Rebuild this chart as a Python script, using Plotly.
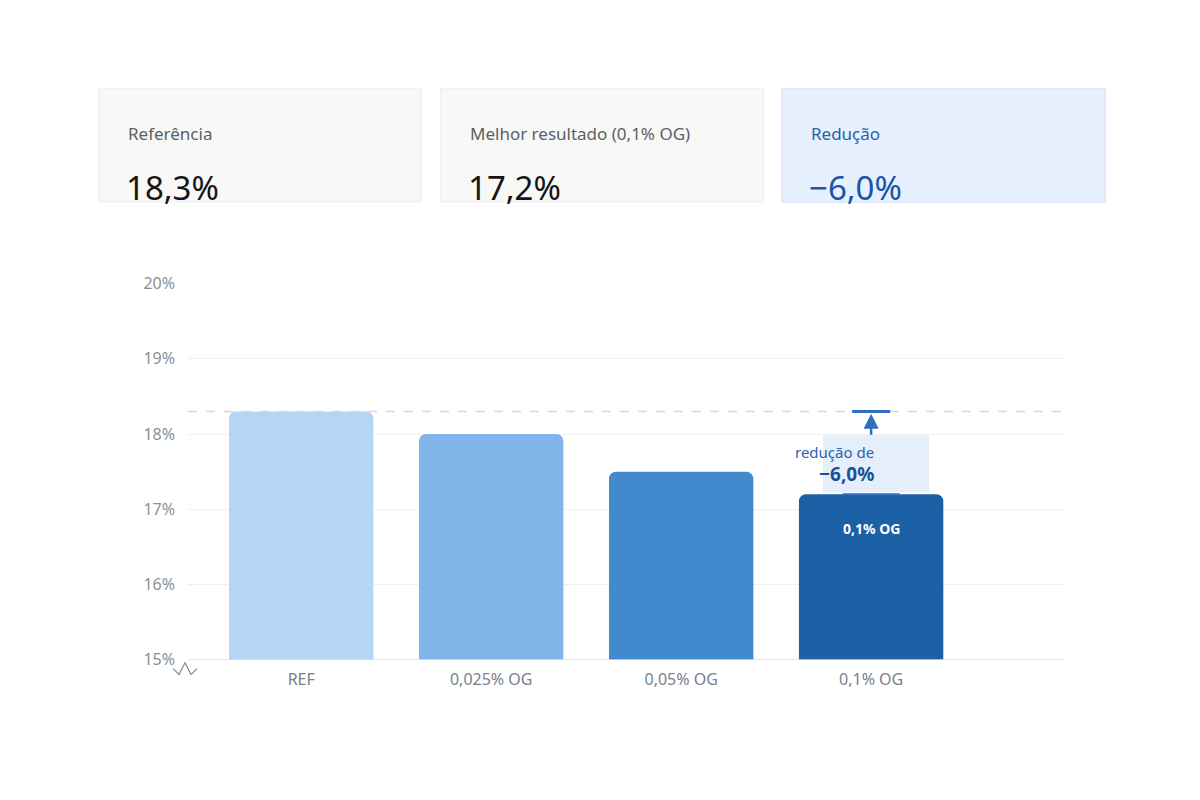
import plotly.graph_objects as go

categories = ["REF", "0,025% OG", "0,05% OG", "0,1% OG"]
values = [18.3, 18.0, 17.5, 17.2]
colors = ["#b6d4f6", "#80b5e9", "#428acd", "#1c60a6"]
ref_value = 18.3
best_value = 17.2
reduction_text = "−6,0%"
cards = [("Referência", "18,3%"), ("Melhor resultado (0,1% OG)", "17,2%"), ("Redução", "−6,0%")]

W, H = 1200, 800
def px(x): return x / W
def py(y): return 1 - y / H

xs = list(range(len(categories)))
fig = go.Figure(go.Bar(x=xs, y=values, width=0.76, marker=dict(color=colors, cornerradius=7, line_width=0),
                       base=0, hoverinfo="skip"))
fig.update_layout(
    width=W, height=H, margin=dict(l=0, r=0, t=0, b=0), showlegend=False,
    plot_bgcolor="white", paper_bgcolor="white", font=dict(family="Noto Sans", color="#777"),
    xaxis=dict(domain=[px(180), px(1055)], range=[-0.596, 4.01], tickvals=xs, ticktext=categories,
               showgrid=False, zeroline=False, tickfont=dict(size=16, color="#7a7f8c"), ticks="", ticklabelstandoff=8),
    yaxis=dict(domain=[py(659), py(272)], range=[15, 20], tickvals=[15, 16, 17, 18, 19, 20],
               ticktext=["15%", "16%", "17%", "18%", "19%", "20%"], gridcolor="#efefef", zeroline=False,
               tickfont=dict(size=16, color="#8a8f99"), ticklabelstandoff=12),
)
shapes = []
anns = []
# baseline
shapes.append(dict(type="line", xref="paper", yref="y", x0=px(180), x1=px(1055), y0=15, y1=15, line=dict(color="#dddddd", width=1.5)))
# reference dashed line
shapes.append(dict(type="line", xref="paper", yref="y", x0=px(180), x1=px(1055), y0=ref_value, y1=ref_value, line=dict(color="#d5d8de", width=1.5, dash="dash")))
# cap lines
shapes.append(dict(type="line", xref="x", yref="y", x0=3-0.1, x1=3+0.1, y0=ref_value, y1=ref_value, line=dict(color="#2f6fbf", width=3)))
shapes.append(dict(type="line", xref="x", yref="y", x0=3-0.15, x1=3+0.15, y0=best_value, y1=best_value, line=dict(color="#2f6fbf", width=2)))
# axis break zigzag
zz = [(165, 668), (171, 674), (177, 662), (183, 674), (189, 668)]
path = "M " + " L ".join(f"{px(a)},{py(b)}" for a, b in zz)
shapes.append(dict(type="path", xref="paper", yref="paper", path=path, line=dict(color="#888", width=1.2)))
# annotation box
shapes.append(dict(type="rect", xref="paper", yref="paper", x0=px(815), x1=px(921), y0=py(487), y1=py(428),
                   fillcolor="#e5effc", line=dict(width=0), layer="above"))
# arrow
anns.append(dict(xref="x", yref="y", x=3, y=ref_value - 0.03, ax=3, ay=17.97, axref="x", ayref="y",
                 showarrow=True, arrowhead=2, arrowsize=1.2, arrowwidth=2.5, arrowcolor="#2f6fbf", text=""))
anns.append(dict(xref="paper", yref="paper", x=px(868), y=py(445), text="redução de", showarrow=False,
                 font=dict(size=15, color="#2a63ad")))
anns.append(dict(xref="paper", yref="paper", x=px(868), y=py(468), text="<b>" + reduction_text + "</b>", showarrow=False,
                 font=dict(size=19, color="#1a4f96")))
anns.append(dict(xref="x", yref="paper", x=3, y=py(524), text="<b>" + categories[3] + "</b>", showarrow=False,
                 font=dict(size=14, color="white")))
# cards
card_x = [(92, 412), (434, 754), (775, 1096)]
for i, ((x0, x1), (lab, val)) in enumerate(zip(card_x, cards)):
    hl = i == 2
    shapes.append(dict(type="rect", xref="paper", yref="paper", x0=px(x0-2), x1=px(x1+2), y0=py(189), y1=py(71),
                       fillcolor="#f2f3f5" if not hl else "#dde9fb", line=dict(width=0)))
    shapes.append(dict(type="rect", xref="paper", yref="paper", x0=px(x0), x1=px(x1), y0=py(187), y1=py(73),
                       fillcolor="#f8f8f7" if not hl else "#e6f0fe", line=dict(width=0)))
    anns.append(dict(xref="paper", yref="paper", x=px(x0 + 26), y=py(104), xanchor="left", text=lab, showarrow=False,
                     font=dict(size=17, color="#2a5faa" if hl else "#5b5f66")))
    anns.append(dict(xref="paper", yref="paper", x=px(x0 + 24), y=py(148), xanchor="left", text=val, showarrow=False,
                     font=dict(size=33, color="#1a56a8" if hl else "#151515")))
fig.update_layout(shapes=shapes, annotations=anns)
fig.write_html("out.html")
